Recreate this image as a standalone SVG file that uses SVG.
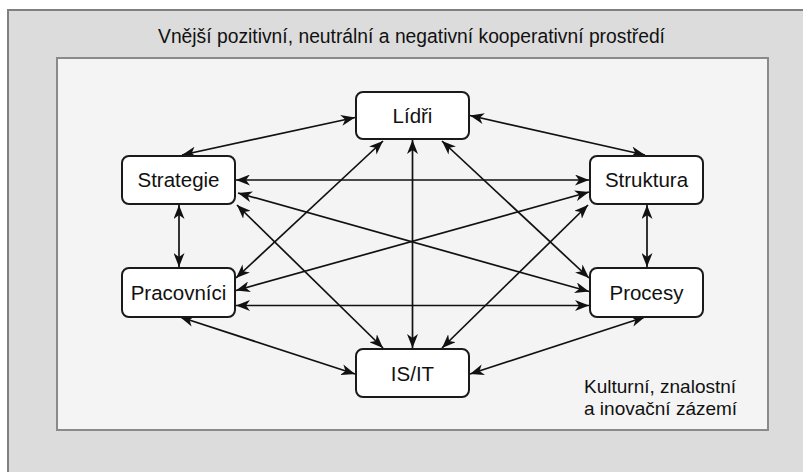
<svg xmlns="http://www.w3.org/2000/svg" width="803" height="472" viewBox="0 0 803 472">
  <style>
    .frame-outer { fill: #dcdcdc; stroke: #808080; stroke-width: 2; }
    .frame-inner { fill: #f4f4f4; stroke: #8a8a8a; stroke-width: 2; }
    .node rect { fill: #ffffff; stroke: #1a1a1a; stroke-width: 2; }
    .node text { font-family: "Liberation Sans", Arial, sans-serif; font-size: 20.5px; fill: #111; text-anchor: middle; }
    .label { font-family: "Liberation Sans", Arial, sans-serif; font-size: 19px; fill: #111; }
    .title { font-size: 19.3px; }
    .edges path { fill: none; stroke: #111; stroke-width: 1.7; marker-start: url(#arrow); marker-end: url(#arrow); }
  </style>
  <defs>
    <marker id="arrow" viewBox="0 0 14 11" refX="14" refY="5.5" markerWidth="14" markerHeight="11" markerUnits="userSpaceOnUse" orient="auto-start-reverse">
      <path d="M0,0 L14,5.5 L0,11 L4,5.5 Z" fill="#111"/>
    </marker>
  </defs>

  <!-- surrounding environment -->
  <rect class="frame-outer" x="8" y="10" width="810" height="480"/>
  <text class="label title" x="411.5" y="43" text-anchor="middle">Vnější pozitivní, neutrální a negativní kooperativní prostředí</text>

  <!-- inner background -->
  <rect class="frame-inner" x="57" y="58" width="711" height="372"/>
  <text class="label" x="584" y="393">Kulturní, znalostní</text>
  <text class="label" x="584" y="415">a inovační zázemí</text>

  <!-- connectors: every pair of nodes, two-way -->
  <g class="edges" id="connectors">
    <path d="M355,117.5 L182,155"/>
    <path d="M470,115.5 L645,155"/>
    <path d="M236,180 L589,180"/>
    <path d="M179,205 L179,267"/>
    <path d="M647,205 L647,267"/>
    <path d="M236,305.5 L589,305.5"/>
    <path d="M180,317 L355,374"/>
    <path d="M645,317 L470,374"/>
    <path d="M412.5,140 L412.5,348"/>
    <path d="M383,141 L236,278"/>
    <path d="M442,141 L589,278"/>
    <path d="M237,205 L383,348"/>
    <path d="M588,205 L442,348"/>
    <path d="M238,193 L589,291.5"/>
    <path d="M589,192 L236,290.5"/>
  </g>

  <g class="node" id="lidri">
    <rect x="356" y="92" width="113" height="47" rx="7"/>
    <text x="412.5" y="122.5">Lídři</text>
  </g>
  <g class="node" id="strategie">
    <rect x="122" y="156" width="113" height="48" rx="7"/>
    <text x="178.5" y="187">Strategie</text>
  </g>
  <g class="node" id="struktura">
    <rect x="590" y="156" width="113" height="48" rx="7"/>
    <text x="646.5" y="187">Struktura</text>
  </g>
  <g class="node" id="pracovnici">
    <rect x="122" y="268" width="113" height="49" rx="7"/>
    <text x="178.5" y="299.5">Pracovníci</text>
  </g>
  <g class="node" id="procesy">
    <rect x="590" y="268" width="113" height="49" rx="7"/>
    <text x="646.5" y="299.5">Procesy</text>
  </g>
  <g class="node" id="is-it">
    <rect x="356" y="349" width="113" height="48" rx="7"/>
    <text x="412.5" y="380.5">IS/IT</text>
  </g>
</svg>
